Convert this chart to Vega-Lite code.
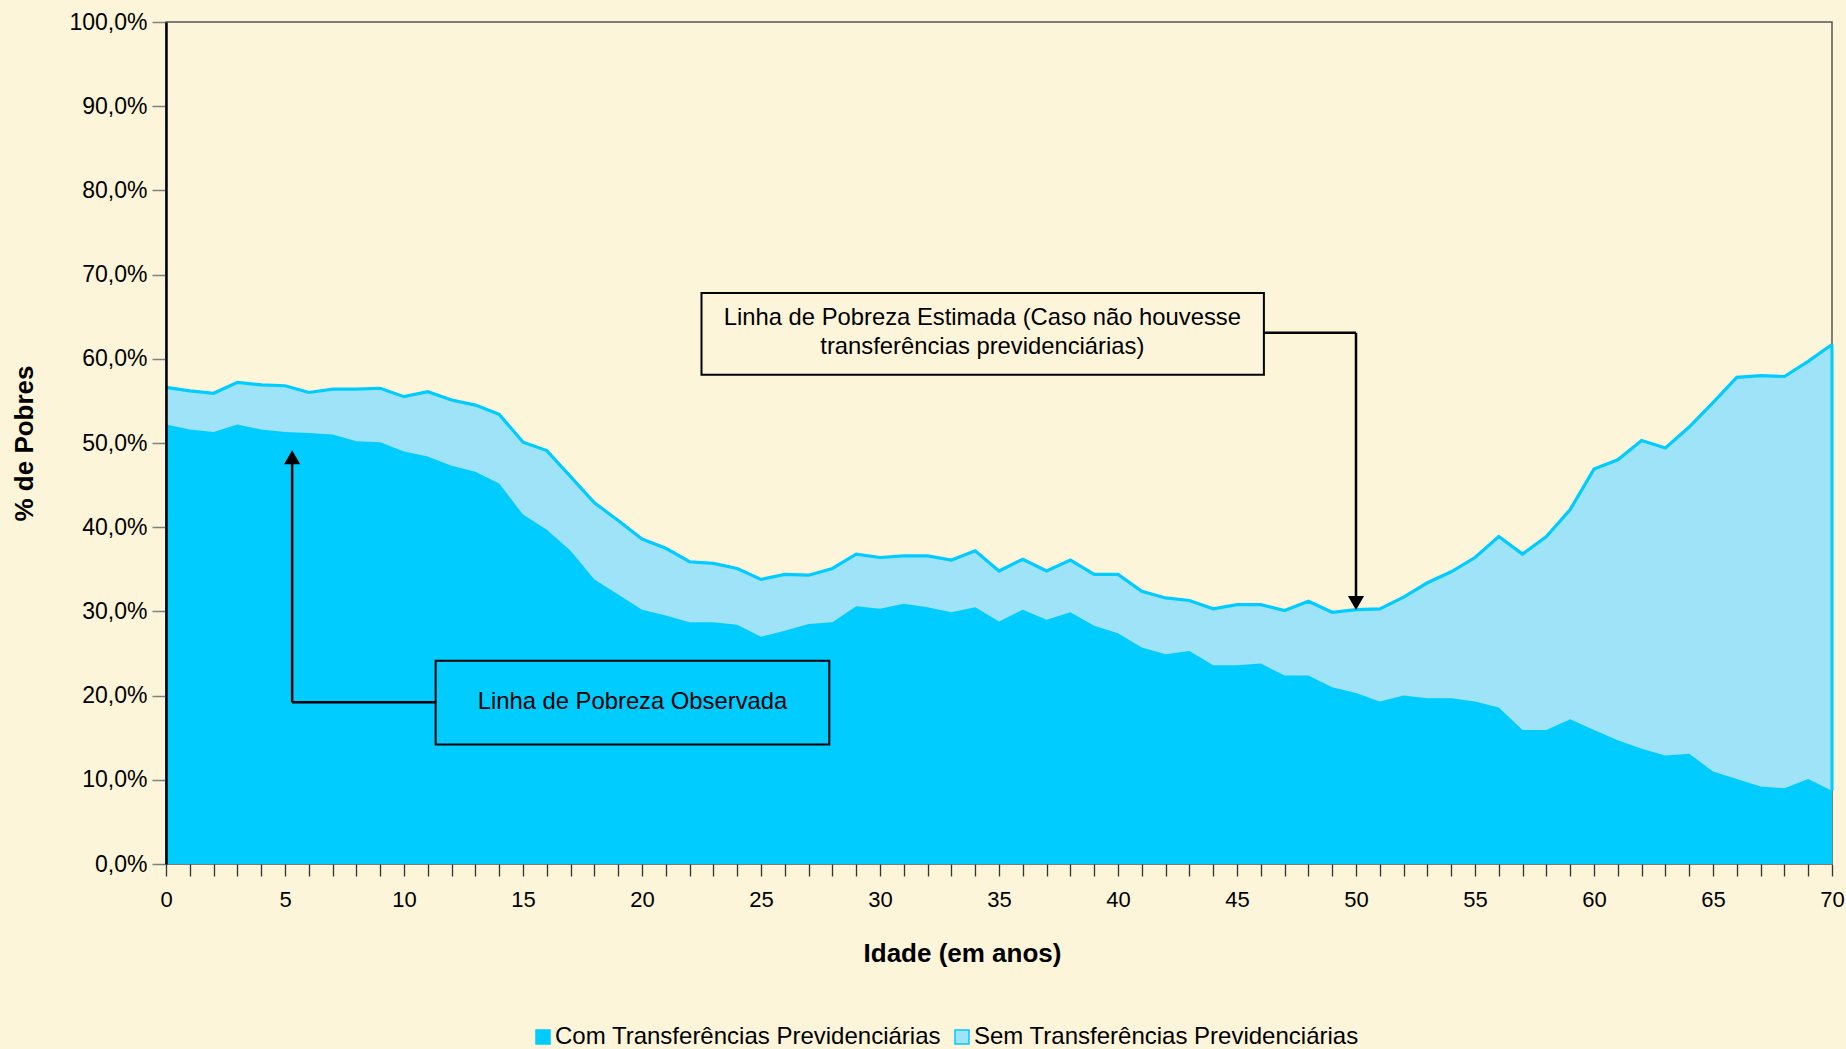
{
  "$schema": "https://vega.github.io/schema/vega-lite/v6.json",
  "width": 1666,
  "height": 842,
  "autosize": {"type": "none"},
  "padding": {"left": 166, "top": 22, "right": 14, "bottom": 185},
  "background": "#FDF5D9",
  "config": {
    "font": "Liberation Sans",
    "view": {"stroke": "#555555", "strokeWidth": 1.5},
    "locale": {"number": {"decimal": ",", "thousands": ".", "grouping": [3], "currency": ["R$", ""]}}
  },
  "datasets": {
    "pobres": [
      {"idade": 0, "com": 0.522, "sem": 0.566}, {"idade": 1, "com": 0.516, "sem": 0.562},
      {"idade": 2, "com": 0.513, "sem": 0.559}, {"idade": 3, "com": 0.522, "sem": 0.572},
      {"idade": 4, "com": 0.516, "sem": 0.569}, {"idade": 5, "com": 0.513, "sem": 0.568},
      {"idade": 6, "com": 0.512, "sem": 0.560}, {"idade": 7, "com": 0.510, "sem": 0.564},
      {"idade": 8, "com": 0.502, "sem": 0.564}, {"idade": 9, "com": 0.501, "sem": 0.565},
      {"idade": 10, "com": 0.490, "sem": 0.555}, {"idade": 11, "com": 0.484, "sem": 0.561},
      {"idade": 12, "com": 0.473, "sem": 0.551}, {"idade": 13, "com": 0.466, "sem": 0.545},
      {"idade": 14, "com": 0.452, "sem": 0.534}, {"idade": 15, "com": 0.415, "sem": 0.501},
      {"idade": 16, "com": 0.397, "sem": 0.491}, {"idade": 17, "com": 0.372, "sem": 0.460},
      {"idade": 18, "com": 0.338, "sem": 0.429}, {"idade": 19, "com": 0.320, "sem": 0.408},
      {"idade": 20, "com": 0.302, "sem": 0.386}, {"idade": 21, "com": 0.295, "sem": 0.375},
      {"idade": 22, "com": 0.287, "sem": 0.359}, {"idade": 23, "com": 0.287, "sem": 0.357},
      {"idade": 24, "com": 0.284, "sem": 0.351}, {"idade": 25, "com": 0.270, "sem": 0.338},
      {"idade": 26, "com": 0.277, "sem": 0.344}, {"idade": 27, "com": 0.285, "sem": 0.343},
      {"idade": 28, "com": 0.287, "sem": 0.351}, {"idade": 29, "com": 0.306, "sem": 0.368},
      {"idade": 30, "com": 0.303, "sem": 0.364}, {"idade": 31, "com": 0.309, "sem": 0.366},
      {"idade": 32, "com": 0.305, "sem": 0.366}, {"idade": 33, "com": 0.299, "sem": 0.361},
      {"idade": 34, "com": 0.305, "sem": 0.372}, {"idade": 35, "com": 0.288, "sem": 0.348},
      {"idade": 36, "com": 0.302, "sem": 0.362}, {"idade": 37, "com": 0.290, "sem": 0.348},
      {"idade": 38, "com": 0.299, "sem": 0.361}, {"idade": 39, "com": 0.283, "sem": 0.344},
      {"idade": 40, "com": 0.274, "sem": 0.344}, {"idade": 41, "com": 0.257, "sem": 0.324},
      {"idade": 42, "com": 0.249, "sem": 0.316}, {"idade": 43, "com": 0.253, "sem": 0.313},
      {"idade": 44, "com": 0.236, "sem": 0.303}, {"idade": 45, "com": 0.236, "sem": 0.308},
      {"idade": 46, "com": 0.238, "sem": 0.308}, {"idade": 47, "com": 0.224, "sem": 0.301},
      {"idade": 48, "com": 0.224, "sem": 0.312}, {"idade": 49, "com": 0.210, "sem": 0.299},
      {"idade": 50, "com": 0.203, "sem": 0.302}, {"idade": 51, "com": 0.193, "sem": 0.303},
      {"idade": 52, "com": 0.200, "sem": 0.317}, {"idade": 53, "com": 0.197, "sem": 0.334},
      {"idade": 54, "com": 0.197, "sem": 0.347}, {"idade": 55, "com": 0.193, "sem": 0.364},
      {"idade": 56, "com": 0.186, "sem": 0.389}, {"idade": 57, "com": 0.159, "sem": 0.368},
      {"idade": 58, "com": 0.159, "sem": 0.389}, {"idade": 59, "com": 0.172, "sem": 0.421},
      {"idade": 60, "com": 0.159, "sem": 0.469}, {"idade": 61, "com": 0.147, "sem": 0.480},
      {"idade": 62, "com": 0.137, "sem": 0.503}, {"idade": 63, "com": 0.129, "sem": 0.494},
      {"idade": 64, "com": 0.131, "sem": 0.519}, {"idade": 65, "com": 0.110, "sem": 0.548},
      {"idade": 66, "com": 0.101, "sem": 0.578}, {"idade": 67, "com": 0.092, "sem": 0.580},
      {"idade": 68, "com": 0.090, "sem": 0.579}, {"idade": 69, "com": 0.101, "sem": 0.597},
      {"idade": 70, "com": 0.087, "sem": 0.617}
    ]
  },
  "layer": [
    {
      "data": {"name": "pobres"},
      "mark": {"type": "area", "opacity": 1},
      "encoding": {
        "x": {
          "field": "idade", "type": "quantitative",
          "scale": {"domain": [0, 70], "nice": false, "zero": false},
          "axis": {
            "title": "Idade (em anos)", "titleFontSize": 26, "titleFontWeight": "bold", "titleColor": "#000",
            "titlePadding": 30, "titleX": 796, "titleAlign": "center",
            "values": [0,1,2,3,4,5,6,7,8,9,10,11,12,13,14,15,16,17,18,19,20,21,22,23,24,25,26,27,28,29,30,31,32,33,34,35,36,37,38,39,40,41,42,43,44,45,46,47,48,49,50,51,52,53,54,55,56,57,58,59,60,61,62,63,64,65,66,67,68,69,70],
            "tickCount": 200,
            "format": "d",
            "labelExpr": "datum.value % 5 === 0 ? datum.label : ''",
            "labelOverlap": false, "labelFlush": false, "labelBound": false,
            "labelFontSize": 22, "labelColor": "#000", "labelPadding": 13,
            "tickSize": 12, "tickColor": "#333333", "tickWidth": 1.3,
            "domain": false, "grid": false
          }
        },
        "y": {
          "field": "sem", "type": "quantitative",
          "scale": {"domain": [0, 1], "nice": false},
          "axis": {
            "title": "% de Pobres", "titleFontSize": 26, "titleFontWeight": "bold", "titleColor": "#000",
            "titlePadding": 31,
            "values": [0, 0.1, 0.2, 0.3, 0.4, 0.5, 0.6, 0.7, 0.8, 0.9, 1],
            "format": ".1%",
            "labelFontSize": 23, "labelColor": "#000", "labelPadding": 5, "labelFlush": false,
            "tickSize": 14, "tickColor": "#808080", "tickWidth": 1.5,
            "domainColor": "#000", "domainWidth": 2.5, "grid": false, "zindex": 1
          }
        },
        "color": {
          "datum": "Sem Transferências Previdenciárias",
          "scale": {
            "domain": ["Com Transferências Previdenciárias", "Sem Transferências Previdenciárias"],
            "range": ["#00CCFF", "#9EE3F8"]
          },
          "legend": {
            "title": null, "orient": "none", "direction": "horizontal",
            "legendX": 365, "legendY": 1003, "padding": 0,
            "symbolType": "square", "symbolSize": 196,
            "symbolStrokeColor": "#00CCFF", "symbolStrokeWidth": 1.5, "symbolOpacity": 1,
            "labelFontSize": 24, "labelColor": "#000", "labelOffset": 0, "columnPadding": 9,
            "labelLimit": 600
          }
        }
      }
    },
    {
      "data": {"name": "pobres"},
      "mark": {"type": "line", "color": "#00CCFF", "strokeWidth": 3.2},
      "encoding": {
        "x": {"field": "idade", "type": "quantitative"},
        "y": {"field": "sem", "type": "quantitative"}
      }
    },
    {
      "data": {"name": "pobres"},
      "mark": {"type": "area", "opacity": 1},
      "encoding": {
        "x": {"field": "idade", "type": "quantitative"},
        "y": {"field": "com", "type": "quantitative"},
        "color": {"datum": "Com Transferências Previdenciárias"}
      }
    },
    {
      "data": {"name": "pobres"},
      "transform": [{"filter": "datum.idade === 70"}],
      "mark": {"type": "rule", "color": "#00CCFF", "strokeWidth": 3},
      "encoding": {
        "x": {"field": "idade", "type": "quantitative"},
        "y": {"field": "com", "type": "quantitative"},
        "y2": {"field": "sem"}
      }
    },
    {
      "data": {"values": [{"x": 22.5, "x2": 46.13, "y": 0.678, "y2": 0.581}]},
      "mark": {"type": "rect", "fill": "#FDF5D9", "stroke": "#000", "strokeWidth": 2},
      "encoding": {
        "x": {"field": "x", "type": "quantitative"}, "x2": {"field": "x2"},
        "y": {"field": "y", "type": "quantitative"}, "y2": {"field": "y2"}
      }
    },
    {
      "data": {"values": [{"x": 11.33, "x2": 27.87, "y": 0.2414, "y2": 0.142}]},
      "mark": {"type": "rect", "fill": null, "fillOpacity": 0, "stroke": "#000", "strokeWidth": 2},
      "encoding": {
        "x": {"field": "x", "type": "quantitative"}, "x2": {"field": "x2"},
        "y": {"field": "y", "type": "quantitative"}, "y2": {"field": "y2"}
      }
    },
    {
      "data": {"values": [
        {"x": 46.13, "x2": 50, "y": 0.631, "y2": 0.631},
        {"x": 50, "x2": 50, "y": 0.631, "y2": 0.31},
        {"x": 11.33, "x2": 5.3, "y": 0.192, "y2": 0.192},
        {"x": 5.3, "x2": 5.3, "y": 0.192, "y2": 0.482}
      ]},
      "mark": {"type": "rule", "color": "#000", "strokeWidth": 2.5},
      "encoding": {
        "x": {"field": "x", "type": "quantitative"}, "x2": {"field": "x2"},
        "y": {"field": "y", "type": "quantitative"}, "y2": {"field": "y2"}
      }
    },
    {
      "data": {"values": [
        {"x": 50, "y": 0.31, "forma": "triangle-down"},
        {"x": 5.3, "y": 0.483, "forma": "triangle-up"}
      ]},
      "mark": {"type": "point", "filled": true, "color": "#000", "size": 260, "opacity": 1},
      "encoding": {
        "x": {"field": "x", "type": "quantitative"},
        "y": {"field": "y", "type": "quantitative"},
        "shape": {"field": "forma", "type": "nominal", "scale": null}
      }
    },
    {
      "data": {"values": [
        {"x": 34.3, "y": 0.648, "texto": "Linha de Pobreza Estimada (Caso não houvesse\ntransferências previdenciárias)"},
        {"x": 19.6, "y": 0.192, "texto": "Linha de Pobreza Observada"}
      ]},
      "mark": {"type": "text", "fontSize": 23.8, "color": "#000", "align": "center", "baseline": "middle", "lineBreak": "\n", "lineHeight": 29},
      "encoding": {
        "x": {"field": "x", "type": "quantitative"},
        "y": {"field": "y", "type": "quantitative"},
        "text": {"field": "texto"}
      }
    }
  ]
}
